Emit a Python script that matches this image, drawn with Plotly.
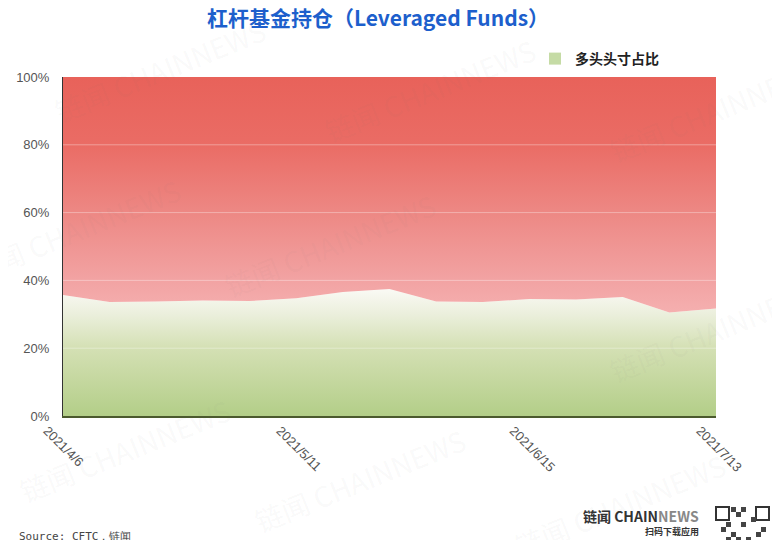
import plotly.graph_objects as go

# ---- data ----
dates = ["2021-04-06", "2021-04-13", "2021-04-20", "2021-04-27", "2021-05-04",
         "2021-05-11", "2021-05-18", "2021-05-25", "2021-06-01", "2021-06-08",
         "2021-06-15", "2021-06-22", "2021-06-29", "2021-07-06", "2021-07-13"]
long_share = [35.7, 33.6, 33.8, 34.1, 33.9, 34.7, 36.6, 37.5, 33.8, 33.6,
              34.5, 34.4, 35.1, 30.5, 31.7]
total = [100] * len(dates)
tick_idx = [0, 5, 10, 14]
tick_labels = ["2021/4/6", "2021/5/11", "2021/6/15", "2021/7/13"]
y_ticks = [0, 20, 40, 60, 80, 100]
y_tick_labels = [f"{v}%" for v in y_ticks]
series_name = "多头头寸占比"
title_text = "杠杆基金持仓（Leveraged Funds）"

# page offset (body margin) and plot-area geometry in screen pixels
OFF = 8
L, R, T, B = 63, 716, 77, 416
def px(x):
    return (x - L) / (R - L)
def py(y):
    return (B - y) / (B - T)

fig = go.Figure()

fig.add_trace(go.Scatter(
    x=dates, y=long_share, mode="lines", line=dict(width=0),
    fill="tozeroy",
    fillgradient=dict(type="vertical", start=0, stop=100,
                      colorscale=[[0, "#b3ce88"], [0.2, "#d4e0b4"], [0.3, "#ebefdc"],
                                  [0.37, "#f9f9f3"], [1, "#ffffff"]]),
    showlegend=False, hoverinfo="skip"))

fig.add_trace(go.Scatter(
    x=dates, y=total, mode="lines", line=dict(width=0),
    fill="tonexty",
    fillgradient=dict(type="vertical", start=0, stop=100,
                      colorscale=[[0, "#f8c4c4"], [0.3, "#f5b0b0"], [0.4, "#f2a3a3"],
                                  [0.6, "#ed8884"], [0.8, "#ea6c65"], [1, "#e8625a"]]),
    showlegend=False, hoverinfo="skip"))

# legend entry
fig.add_trace(go.Scatter(
    x=[None], y=[None], mode="markers", name="<b>" + series_name + "</b>",
    marker=dict(symbol="square", size=11, color="#c5dba5")))

shapes = []
for v in [20, 40, 60, 80]:
    shapes.append(dict(type="line", xref="paper", yref="y", x0=0, x1=1, y0=v, y1=v,
                       line=dict(color="rgba(255,255,255,0.35)", width=1), layer="above"))

annotations = []
wm = [(160, 70), (430, 90), (715, 110), (75, 230), (330, 245), (125, 450),
      (360, 480), (715, 330), (620, 505)]
for (wx, wy) in wm:
    annotations.append(dict(text="链闻 CHAINNEWS", xref="paper", yref="paper",
                            x=px(wx), y=py(wy), showarrow=False,
                            textangle=-22, font=dict(size=28, color="rgba(120,120,120,0.05)",
                                                     family="Noto Sans CJK SC"),
                            xanchor="center", yanchor="middle"))

annotations += [
    dict(text="Source: CFTC，链闻", xref="paper", yref="paper",
         x=px(17), y=py(536), xanchor="left", yanchor="middle",
         showarrow=False, font=dict(size=11, color="#444", family="DejaVu Sans Mono")),
    dict(text="<b>链闻 CHAIN</b><span style='color:#888'><b>NEWS</b></span>", xref="paper", yref="paper",
         x=px(701), y=py(516), xanchor="right", yanchor="middle",
         showarrow=False, font=dict(size=14, color="#333", family="Noto Sans CJK SC")),
    dict(text="<b>扫码下载应用</b>", xref="paper", yref="paper",
         x=px(701), y=py(531), xanchor="right", yanchor="middle",
         showarrow=False, font=dict(size=9, color="#333", family="Noto Sans CJK SC")),
]

# QR-like block
qr_x0, qr_y0, cell = 716, 507, 5
for (cx, cy) in [(0, 0), (8, 0), (0, 8)]:
    x0 = qr_x0 + cx * cell
    y0 = qr_y0 + cy * cell
    shapes.append(dict(type="rect", xref="paper", yref="paper",
                       x0=px(x0), x1=px(x0 + 2.6 * cell),
                       y0=py(y0), y1=py(y0 + 2.6 * cell),
                       line=dict(color="#333", width=2), fillcolor="white"))
for (cx, cy) in [(4, 1), (5, 3), (3, 5), (6, 6), (4, 8), (8, 5), (2, 3), (7, 2), (6, 9), (9, 8),
                 (3, 0), (5, 0), (1, 4), (9, 4), (4, 6), (7, 7), (2, 6), (8, 9)]:
    x0 = qr_x0 + cx * cell
    y0 = qr_y0 + cy * cell
    shapes.append(dict(type="rect", xref="paper", yref="paper",
                       x0=px(x0), x1=px(x0 + cell), y0=py(y0), y1=py(y0 + cell),
                       line=dict(width=0), fillcolor="#444"))

fig.update_layout(
    width=780, height=540,
    margin=dict(l=L - OFF, r=780 - R + OFF, t=T - OFF, b=540 - B + OFF, autoexpand=False),
    paper_bgcolor="white", plot_bgcolor="white",
    title=dict(text="<b>" + title_text + "</b>", x=(378 - OFF) / 780, xref="container",
               y=1 - (19 - OFF) / 540, yref="container", xanchor="center", yanchor="middle",
               font=dict(size=21, color="#1d5fcc", family="Noto Sans CJK SC")),
    legend=dict(x=px(535), y=py(43), xref="paper", yref="paper",
                xanchor="left", yanchor="top", bgcolor="rgba(0,0,0,0)",
                font=dict(size=14, color="#222", family="Noto Sans CJK SC"),
                itemsizing="constant"),
    xaxis=dict(type="date", range=[dates[0], dates[-1]],
               tickvals=[dates[i] for i in tick_idx], ticktext=tick_labels,
               tickangle=45, ticklabelshift=-16,
               showgrid=False, zeroline=False, showline=True,
               linecolor="#4b5a2e", linewidth=2,
               tickfont=dict(size=13, color="#555", family="Liberation Sans")),
    yaxis=dict(range=[0, 100], tickvals=y_ticks, ticktext=y_tick_labels,
               showgrid=False, zeroline=False, showline=True,
               linecolor="#333", linewidth=1, ticklabelstandoff=10,
               tickfont=dict(size=13, color="#555", family="Liberation Sans")),
    shapes=shapes, annotations=annotations,
)

fig.write_html("out.html")
